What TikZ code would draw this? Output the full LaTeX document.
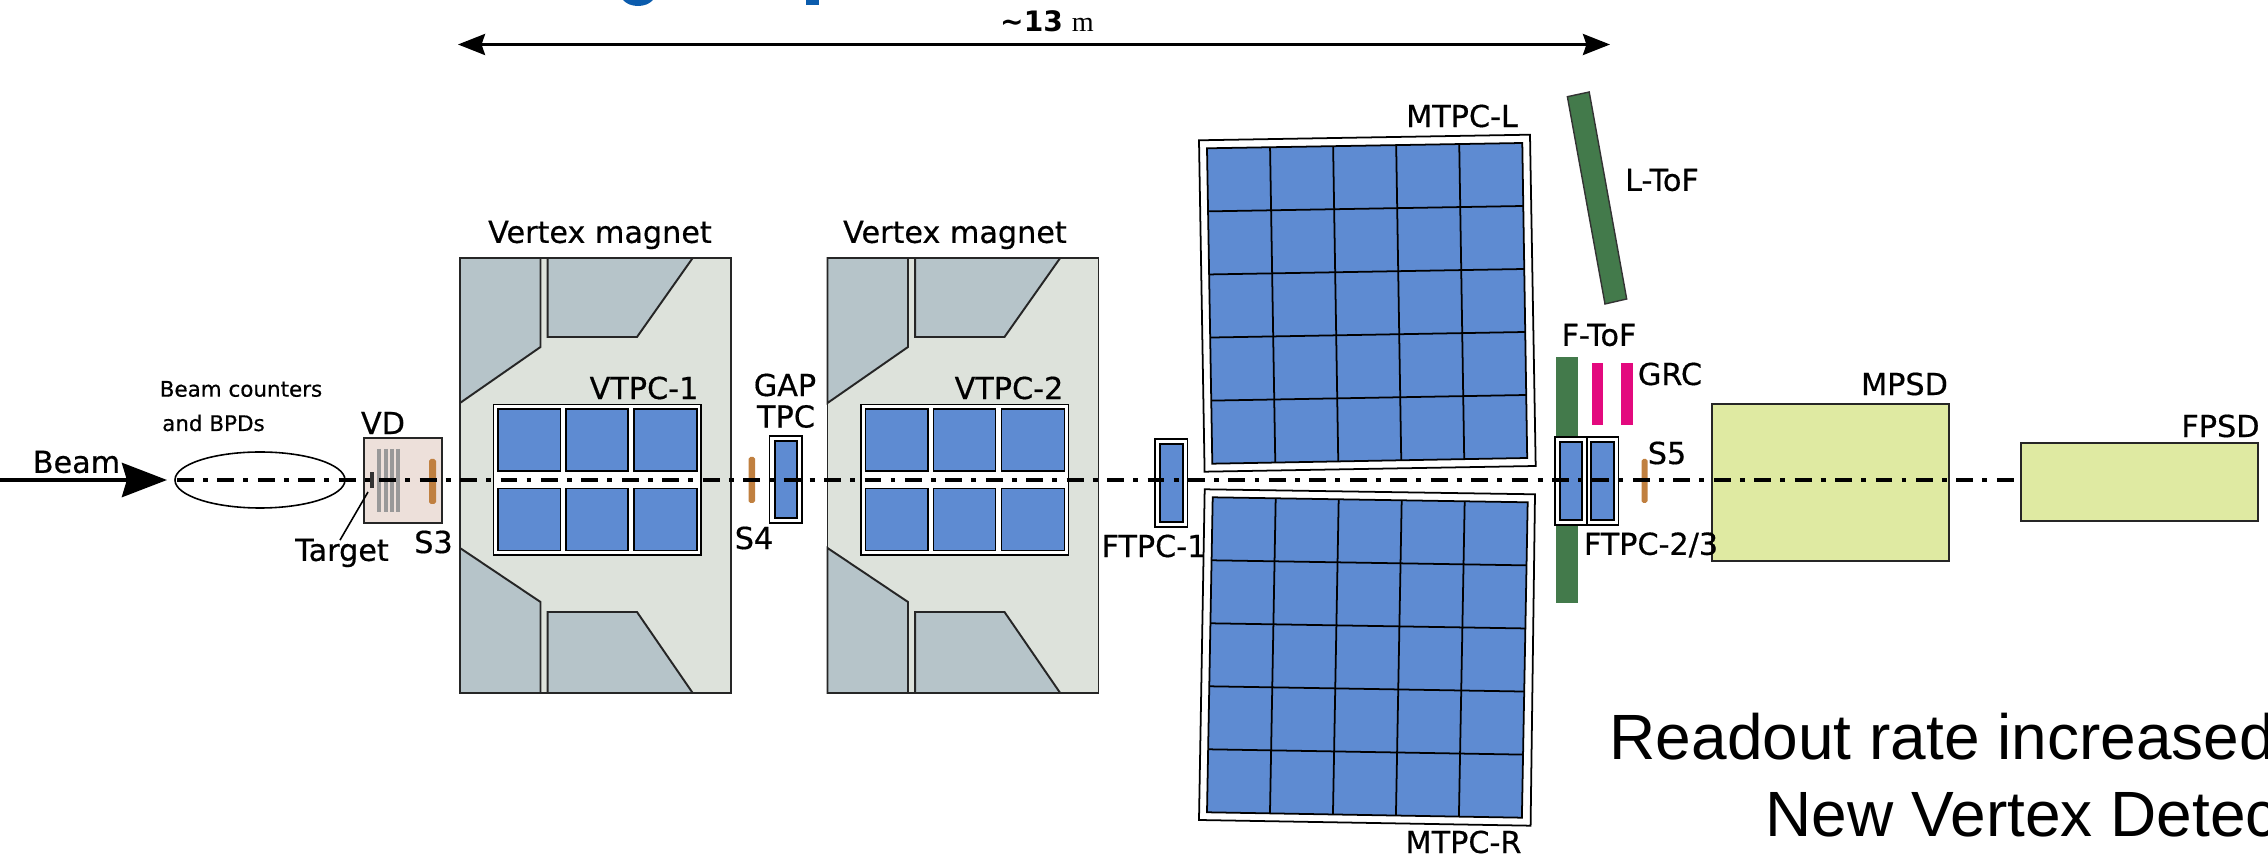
\documentclass[tikz,border=0pt]{standalone}
\usepackage{fontspec}
\setmainfont{DejaVu Sans}
\newfontfamily\labelfont[FakeBold=0.5]{DejaVu Sans}
\newfontfamily\readoutfont{Liberation Sans}
\newfontfamily\serifunit{Liberation Serif}
\usetikzlibrary{arrows.meta,calc}
\definecolor{panel}{HTML}{5E8BD2}
\definecolor{yokefill}{HTML}{B6C4C9}
\definecolor{magnetfill}{HTML}{DDE2DB}
\definecolor{tofgreen}{HTML}{437A4B}
\definecolor{grcpink}{HTML}{E3097E}
\definecolor{psdfill}{HTML}{DFEAA2}
\definecolor{vdfill}{HTML}{EDE0DA}
\definecolor{counter}{HTML}{C08040}
\definecolor{titleblue}{HTML}{0B5CAD}
\newcommand{\mtpcframe}[8]{%
\draw[frameline,fill=white] #1--#2--#3--#4--cycle;
\coordinate (pa) at #5;\coordinate (pb) at #6;\coordinate (pc) at #7;\coordinate (pd) at #8;
\draw[frameline,fill=panel] (pa)--(pb)--(pc)--(pd)--cycle;
\foreach \t in {0.2,0.4,0.6,0.8}{\draw[frameline] ($(pa)!\t!(pb)$)--($(pd)!\t!(pc)$);\draw[frameline] ($(pa)!\t!(pd)$)--($(pb)!\t!(pc)$);}
}
\begin{document}
\begin{tikzpicture}[x=0.01cm,y=-0.01cm,
frameline/.style={line width=.5pt,draw=black},
boxline/.style={line width=.55pt,draw=black!85},
lbl/.style={inner sep=0pt,font=\fontsize{8.6}{9}\labelfont},
smalllbl/.style={inner sep=0pt,font=\fontsize{6.1}{7}\labelfont},
readout/.style={inner sep=0pt,anchor=base west,font=\fontsize{18.2}{20}\readoutfont},
bar/.style={fill=counter,rounded corners=.5pt},
beamline/.style={line width=1.3pt,dash pattern=on 4.8pt off 2.6pt on 1.4pt off 2.7pt}]
\useasboundingbox (0,0) rectangle (2268,858);
\clip (0,0) rectangle (2268,858);
\fill[titleblue] (623,0) .. controls (630,8) and (646,8) .. (653,0) -- cycle;
\fill[titleblue] (806,0) rectangle (818.5,5);
\coordinate (dimL) at (458,44.5);
\coordinate (dimR) at (1610,44.5);
\draw[line width=.7pt,{Stealth[length=7.7pt,width=6pt,inset=1pt]}-{Stealth[length=7.7pt,width=6pt,inset=1pt]}] (dimL)--(dimR);
\node[inner sep=0pt,font=\fontsize{8}{9}\selectfont] (dimlabel) at (1047,21) {\textbf{\char"7E 13} {\serifunit m}};
\foreach \x in {0,367.5}{
\begin{scope}[xshift=\x*0.01cm]
\draw[boxline,fill=magnetfill] (460,258) rectangle (731,693);
\draw[boxline,fill=yokefill] (460,258)--(540.5,258)--(540.5,347)--(460,403)--cycle;
\draw[boxline,fill=yokefill] (547.6,258)--(692.7,258)--(637,337)--(547.6,337)--cycle;
\draw[boxline,fill=yokefill] (460,548)--(540.5,602)--(540.5,693)--(460,693)--cycle;
\draw[boxline,fill=yokefill] (547.6,612)--(637,612)--(692.7,693)--(547.6,693)--cycle;
\draw[frameline,fill=white] (493.6,404.6) rectangle (701,555);
\foreach \a/\b in {498/560.5,566/628,634/697}{
\draw[frameline,fill=panel] (\a,409) rectangle (\b,471);
\draw[frameline,fill=panel] (\a,488.5) rectangle (\b,550.5);}
\end{scope}}
\draw[boxline,fill=vdfill] (364,438) rectangle (442,523);
\foreach \x in {379,386,392,398}{\draw[line width=1pt,black!40] (\x,449)--(\x,512);}
\fill[black!80] (370,472) rectangle (374,488);
\fill[bar] (429,459) rectangle (436,504);
\fill[bar] (748.5,457) rectangle (755,503);
\fill[bar] (1641.7,459) rectangle (1647.5,503);
\draw[frameline,fill=white] (769.5,436) rectangle (802,523);
\draw[frameline,fill=panel] (775,441) rectangle (797,518);
\draw[frameline,fill=white] (1155,439) rectangle (1187.4,526.7);
\draw[frameline,fill=panel] (1160,444) rectangle (1183,521.7);
\mtpcframe{(1199,140.3)}{(1530,134.7)}{(1535.7,466)}{(1204.6,471.7)}{(1207,148.3)}{(1522.3,143)}{(1527.2,458)}{(1212.3,463.7)}
\mtpcframe{(1204.7,489.3)}{(1535,494.3)}{(1530.6,825.7)}{(1199,820)}{(1212.7,497.3)}{(1527.7,502.3)}{(1521.9,817.7)}{(1207,812.3)}
\draw[line width=.4pt,black!80,fill=tofgreen] (1567.4,96.7)--(1589.2,92)--(1626.7,299)--(1605,304)--cycle;
\fill[tofgreen] (1555.6,357) rectangle (1578,603);
\fill[grcpink] (1592,363) rectangle (1603.4,425);
\fill[grcpink] (1621.4,363) rectangle (1633,425);
\foreach \a/\b/\c/\d in {1555/1587/1560/1582,1587/1618.6/1591/1614}{
\draw[frameline,fill=white] (\a,437) rectangle (\b,525);
\draw[frameline,fill=panel] (\c,442) rectangle (\d,520);}
\draw[boxline,fill=psdfill] (1712,404) rectangle (1949,560.7);
\draw[boxline,fill=psdfill] (2020.6,443) rectangle (2258,521);
\draw[line width=.45pt] (260,480) ellipse (85 and 28);
\coordinate (beamstart) at (0,480);
\coordinate (beamtip) at (167,480);
\coordinate (beamend) at (2019,480);
\coordinate (beamfrom) at (177,480);
\draw[line width=1.15pt,-{Stealth[length=12.8pt,width=9.7pt,inset=1.4pt]}] (beamstart)--(beamtip);
\draw[beamline] (beamfrom)--(beamend);
\node[lbl] (beam) at (76.5,462) {Beam};
\node[smalllbl] (counters) at (241,389) {Beam counters};
\node[smalllbl] (bpds) at (213.5,423) {and BPDs};
\node[lbl] (vd) at (383,423) {VD};
\node[lbl] (target) at (342,553) {Target};
\coordinate (targetpin) at (368,492);
\draw[line width=.45pt] (target.north)++(-2,2)--(targetpin);
\node[lbl] (sthree) at (433.5,542) {S3};
\node[lbl] (magnetA) at (600,235) {Vertex magnet};
\node[lbl] (magnetB) at (955,235) {Vertex magnet};
\node[lbl] (vtpcA) at (644,388) {VTPC-1};
\node[lbl] (vtpcB) at (1009,388) {VTPC-2};
\node[lbl] (gap) at (785,385) {GAP};
\node[lbl] (gaptpc) at (786,416.5) {TPC};
\node[lbl] (sfour) at (754,538) {S4};
\node[lbl] (ftpcA) at (1154,546) {FTPC-1};
\node[lbl] (mtpcL) at (1462,116) {MTPC-L};
\node[lbl] (mtpcR) at (1463.5,842) {MTPC-R};
\node[lbl] (ltof) at (1662,180) {L-ToF};
\node[lbl] (ftof) at (1599,335) {F-ToF};
\node[lbl] (grc) at (1670,374) {GRC};
\node[lbl] (ftpcB) at (1651,545) {FTPC-2/3};
\node[lbl] (sfive) at (1667,453) {S5};
\node[lbl] (mpsd) at (1904.5,384) {MPSD};
\node[lbl] (fpsd) at (2220.5,426) {FPSD};
\node[readout] (readoutA) at (1609,760) {Readout rate increased};
\node[readout] (readoutB) at (1765,837) {New Vertex Detec};
\end{tikzpicture}
\end{document}
